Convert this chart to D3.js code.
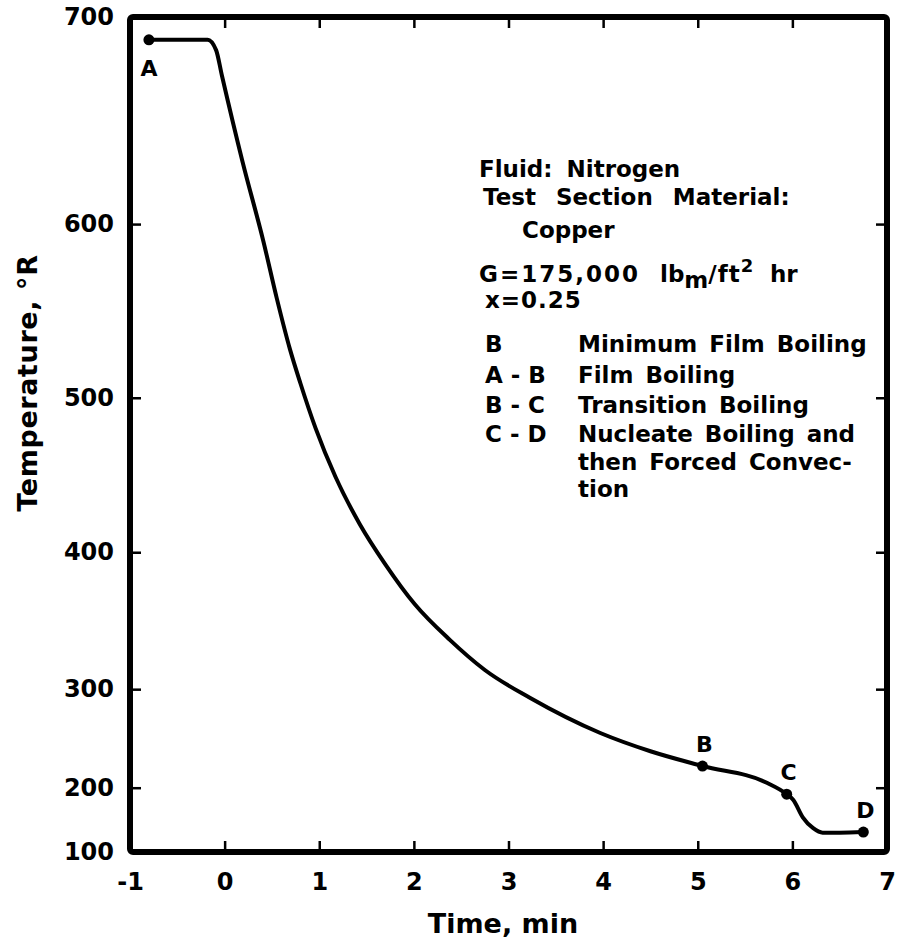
<!DOCTYPE html>
<html>
<head>
<meta charset="utf-8">
<script src="https://cdn.jsdelivr.net/npm/d3@7"></script>
<style>
  body { margin: 0; background: #fff; }
  svg text { font-family: "DejaVu Sans", sans-serif; font-weight: bold; fill: #000; }
</style>
</head>
<body>
<svg class="chart" width="899" height="944"></svg>
<script>
// cooldown curve
var timeMin = [-0.80, -0.18, -0.09, -0.03, 0.19, 0.41, 0.55, 0.69, 0.80, 0.96, 1.17, 1.43, 1.70, 2.01,
               2.38, 2.75, 3.23, 3.97, 4.50, 5.05, 5.73, 5.94, 6.01, 6.11, 6.22, 6.32, 6.50, 6.75];
var tempR   = [689, 689, 684, 672, 630, 590, 557.5, 528, 508.5, 480.5, 449, 418, 391, 362,
               336, 314, 291, 255.5, 237, 222, 205, 190, 181, 154, 137, 130, 130, 131];

// marked points
var pointNames = ["A", "B", "C", "D"];
var pointTime  = [-0.80, 5.05, 5.94, 6.75];
var pointTemp  = [689, 222, 190, 131];

var xTicks = [-1, 0, 1, 2, 3, 4, 5, 6, 7];
var yTicks = [100, 200, 300, 400, 500, 600, 700];
// the temperature axis is not uniform: fraction of the axis height for each tick
var yTickFrac = [0, 0.077, 0.195, 0.359, 0.544, 0.752, 1];

var infoLines = ["Fluid: Nitrogen", "Test Section Material:", "Copper"];
var regimeKeys = ["B", "A - B", "B - C", "C - D", "", ""];
var regimeText = ["Minimum Film Boiling", "Film Boiling", "Transition Boiling",
                  "Nucleate Boiling and", "then Forced Convec-", "tion"];

var svg = d3.select(".chart"),
    margin = {top: 17, right: 12, bottom: 92, left: 130},
    width = +svg.attr("width") - margin.left - margin.right,
    height = +svg.attr("height") - margin.top - margin.bottom,
    g = svg.append("g").attr("transform", "translate(" + margin.left + "," + margin.top + ")");

var x = d3.scaleLinear().domain([-1, 7]).range([0, width]);
var y = d3.scaleLinear()
    .domain(yTicks)
    .range(yTickFrac.map(function(f) { return height * (1 - f); }));

function styleAxis(sel) {
  sel.select(".domain").remove();
  sel.selectAll(".tick line").attr("stroke", "#000").attr("stroke-width", 2.5);
  sel.selectAll(".tick text").style("font-size", "24px");
}

g.append("g")
    .call(d3.axisLeft(y).tickValues(yTicks).tickSizeInner(-11).tickSizeOuter(0).tickPadding(16))
    .call(styleAxis);

g.append("g")
    .attr("transform", "translate(0," + height + ")")
    .call(d3.axisBottom(x).tickValues(xTicks).tickSizeInner(-11).tickSizeOuter(0).tickPadding(21)
          .tickFormat(function(d) { return d; }))
    .call(styleAxis);

g.append("g")
    .call(d3.axisTop(x).tickValues(xTicks.slice(1, -1)).tickSizeInner(-11).tickSizeOuter(0).tickFormat(""))
    .call(styleAxis);

g.append("g")
    .attr("transform", "translate(" + width + ",0)")
    .call(d3.axisRight(y).tickValues(yTicks.slice(1, -1)).tickSizeInner(-11).tickSizeOuter(0).tickFormat(""))
    .call(styleAxis);

// heavy frame
g.append("rect")
    .attr("width", width)
    .attr("height", height)
    .attr("rx", 3)
    .attr("fill", "none")
    .attr("stroke", "#000")
    .attr("stroke-width", 6);

var line = d3.line()
    .x(function(d, i) { return x(timeMin[i]); })
    .y(function(d) { return y(d); })
    .curve(d3.curveMonotoneX);

g.append("path")
    .datum(tempR)
    .attr("fill", "none")
    .attr("stroke", "#000")
    .attr("stroke-width", 4)
    .attr("stroke-linejoin", "round")
    .attr("stroke-linecap", "round")
    .attr("d", line);

g.selectAll(".pt")
    .data(pointNames)
  .enter().append("circle")
    .attr("class", "pt")
    .attr("cx", function(d, i) { return x(pointTime[i]); })
    .attr("cy", function(d, i) { return y(pointTemp[i]); })
    .attr("r", 5.5)
    .attr("fill", "#000");

// letters: A sits below its dot, the others above
g.selectAll(".ptlabel")
    .data(pointNames)
  .enter().append("text")
    .attr("class", "ptlabel")
    .attr("x", function(d, i) { return x(pointTime[i]) + (i == 0 ? 0 : 2); })
    .attr("y", function(d, i) { return y(pointTemp[i]) + (i == 0 ? 36 : -14); })
    .attr("text-anchor", "middle")
    .style("font-size", "22px")
    .text(function(d) { return d; });

// axis titles
svg.append("text")
    .attr("x", 503)
    .attr("y", 933)
    .attr("text-anchor", "middle")
    .style("font-size", "27px")
    .text("Time, min");

svg.append("text")
    .attr("transform", "translate(37,383) rotate(-90)")
    .attr("text-anchor", "middle")
    .style("font-size", "27px")
    .attr("letter-spacing", "0.6")
    .text("Temperature,  °R");

// annotation block
var note = svg.append("g").style("font-size", "23px");
var noteX = [479, 483, 522];
note.selectAll(".info")
    .data(infoLines)
  .enter().append("text")
    .attr("x", function(d, i) { return noteX[i]; })
    .attr("y", function(d, i) { return [177, 205, 238][i]; })
    .attr("word-spacing", function(d, i) { return i == 1 ? 12 : 6; })
    .text(function(d) { return d; });

var gLine = note.append("text").attr("y", 282);
gLine.append("tspan").attr("x", 479).attr("letter-spacing", "2").text("G=175,000");
gLine.append("tspan").attr("x", 660).text("lb");
gLine.append("tspan").attr("dy", 6).text("m");
gLine.append("tspan").attr("dy", -6).attr("letter-spacing", "1").text("/ft");
gLine.append("tspan").attr("dy", -10).style("font-size", "18px").text("2");
gLine.append("tspan").attr("x", 770).attr("dy", 10).text("hr");

note.append("text").attr("x", 485).attr("y", 308).attr("letter-spacing", "1").text("x=0.25");

var rowY = [352, 383, 413, 442, 470, 497];
note.selectAll(".key")
    .data(regimeKeys)
  .enter().append("text")
    .attr("x", 485)
    .attr("y", function(d, i) { return rowY[i]; })
    .text(function(d) { return d; });

note.selectAll(".regime")
    .data(regimeText)
  .enter().append("text")
    .attr("x", 578)
    .attr("y", function(d, i) { return rowY[i]; })
    .attr("word-spacing", "4")
    .text(function(d) { return d; });
</script>
</body>
</html>
